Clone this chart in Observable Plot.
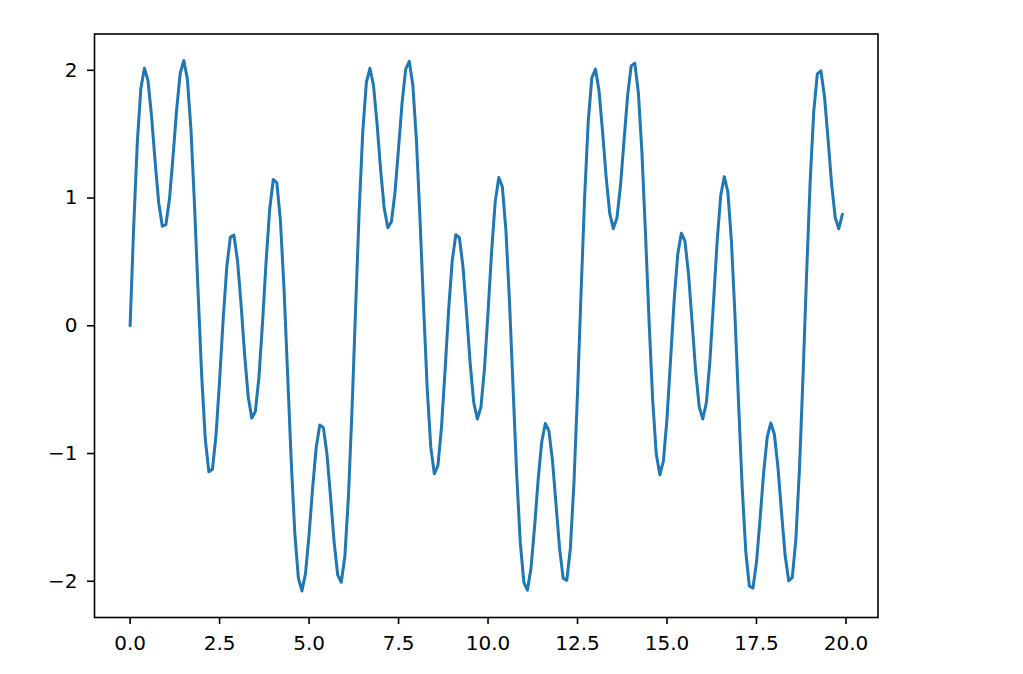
<!DOCTYPE html>
<html><head><meta charset="utf-8">
<script src="https://cdn.jsdelivr.net/npm/d3@7"></script>
<script src="https://cdn.jsdelivr.net/npm/@observablehq/plot@0.6"></script>
<style>html,body{margin:0;padding:0;background:#fff;} svg{display:block}</style>
</head><body><div id="chart"></div>
<script>
const xTicks = [0, 2.5, 5, 7.5, 10, 12.5, 15, 17.5, 20];
const yTicks = [-2, -1, 0, 1, 2];
const xStep = 0.1;
const yValues = [
  0, 0.778, 1.430, 1.858, 2.016, 1.919, 1.638, 1.279, 0.960, 0.780,
  0.792, 0.994, 1.328, 1.694, 1.977, 2.077, 1.931, 1.535, 0.943, 0.259,
  -0.392, -0.888, -1.143, -1.124, -0.857, -0.427, 0.052, 0.458, 0.694, 0.710,
  0.512, 0.165, -0.230, -0.558, -0.723, -0.670, -0.400, 0.026, 0.506, 0.916,
  1.145, 1.119, 0.820, 0.290, -0.376, -1.053, -1.617, -1.973, -2.076, -1.940,
  -1.635, -1.267, -0.949, -0.776, -0.797, -1.006, -1.340, -1.694, -1.951, -2.008,
  -1.804, -1.334, -0.653,
  0.135, 0.900, 1.519, 1.904, 2.016, 1.882, 1.579, 1.219, 0.918, 0.768,
  0.814, 1.044, 1.391, 1.751, 2.009, 2.070, 1.881, 1.447, 0.832, 0.144,
  -0.489, -0.950, -1.159, -1.094, -0.793, -0.346, 0.129, 0.512, 0.713, 0.690,
  0.462, 0.099, -0.293, -0.599, -0.730, -0.638, -0.337, 0.107, 0.583, 0.970,
  1.160, 1.088, 0.745, 0.184, -0.492, -1.159, -1.694, -2.009, -2.069, -1.898,
  -1.575, -1.207, -0.908, -0.765, -0.821, -1.056, -1.401, -1.747, -1.977, -1.993,
  -1.743, -1.231, -0.524,
  0.268, 1.018, 1.602, 1.942, 2.010, 1.841, 1.520, 1.162, 0.880, 0.761,
  0.841, 1.096, 1.453, 1.804, 2.035, 2.056, 1.824, 1.353, 0.717, 0.030,
  -0.581, -1.004, -1.167, -1.058, -0.725, -0.265, 0.203, 0.560, 0.725, 0.665,
  0.408, 0.032, -0.353, -0.635, -0.730, -0.601, -0.270, 0.188, 0.658, 1.018,
  1.167, 1.048, 0.663, 0.075, -0.609, -1.261, -1.764, -2.037, -2.055, -1.852,
  -1.513, -1.149, -0.871, -0.761, -0.849, -1.109, -1.462, -1.797, -1.997, -1.970,
  -1.674, -1.124, -0.394,
  0.401, 1.130, 1.678, 1.972, 1.996, 1.794, 1.459, 1.106, 0.847, 0.760, 0.873
];
const data = yValues.map((y, i) => ({x: +(i * xStep).toFixed(1), y}));
const chart = Plot.plot({
  width: 1023, height: 674,
  marginLeft: 94, marginRight: 145.5, marginTop: 33.5, marginBottom: 57,
  style: {fontFamily: "DejaVu Sans", fontSize: "20px", background: "white", color: "black"},
  x: {domain: [-0.995, 20.895]},
  y: {domain: [-2.2837, 2.2842]},
  marks: [
    Plot.line(data, {x: "x", y: "y", stroke: "#1f77b4", strokeWidth: 3, strokeLinejoin: "round"}),
    Plot.frame({stroke: "black", strokeWidth: 1.6}),
    Plot.axisX({ticks: xTicks, tickFormat: d3.format(".1f"), tickSize: 7, tickPadding: 11, strokeWidth: 1.6, label: null, fontSize: 20}),
    Plot.axisY({ticks: yTicks, tickFormat: d3.format("d"), tickSize: 7, tickPadding: 10, strokeWidth: 1.6, label: null, fontSize: 20})
  ]
});
document.getElementById("chart").appendChild(chart);
</script>
</body></html>
